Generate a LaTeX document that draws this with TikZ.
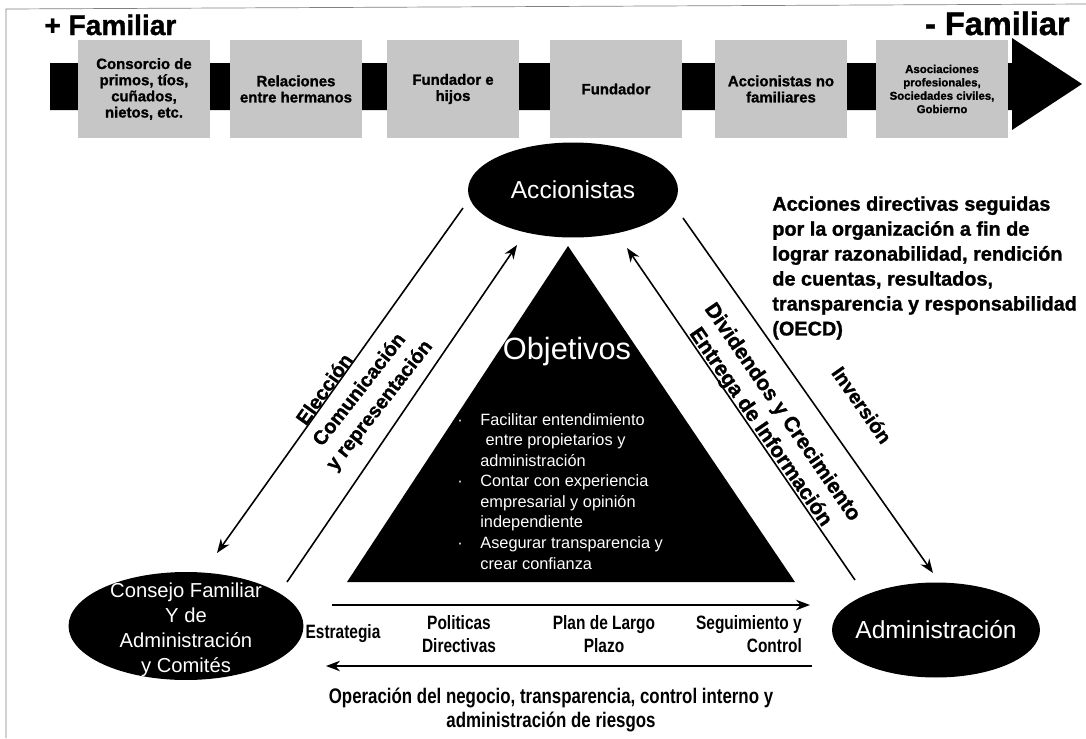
\documentclass[tikz,border=0pt]{standalone}
\usepackage{fontspec}
\setmainfont{Liberation Sans}
\newfontfamily\narrowfont{Liberation Sans}[FakeStretch=0.8]
\newfontfamily\heavyfont{Liberation Sans}[FakeBold=1.2]
\usetikzlibrary{shapes.geometric}
\usetikzlibrary{arrows.meta}

\begin{document}
\begin{tikzpicture}[x=0.02cm,y=-0.02cm]
    \tikzset{
      stage/.style={
        rectangle,
        fill=gray!45,
        minimum width=2.66cm,
        minimum height=1.96cm,
        inner sep=0mm,
        align=center,
        font=\heavyfont\bfseries\fontsize{8.5}{9.2}\selectfont
      },
      party/.style={
        ellipse,
        fill=black,
        inner sep=0mm
      },
      partytext/.style={
        text=white,
        align=center,
        font=\fontsize{14}{16}\selectfont
      },
      flow/.style={
        -{Stealth[length=8pt,width=6pt]},
        line width=0.9pt
      },
      tag/.style={
        align=center,
        font=\heavyfont\bfseries\fontsize{11.3}{14.5}\selectfont
      },
      steplabel/.style={
        align=center,
        font=\narrowfont\bfseries\fontsize{11}{13}\selectfont
      }
    }

    \useasboundingbox (0,0) rectangle (1086,738);

    %Scan frame
    \draw[gray, line width=0.4pt] (6,738) -- (6,9) -- (1086,4);

    %Familiar scale
    \node[font=\heavyfont\bfseries\fontsize{16}{18}\selectfont, anchor=base west, inner sep=0mm] at (44,35) (more) {+ Familiar};
    \node[font=\heavyfont\bfseries\fontsize{18.5}{20}\selectfont, anchor=base east, inner sep=0mm] at (1070,35) (less) {- Familiar};

    %Band arrow
    \fill (50,63) -- (1012,63) -- (1012,38) -- (1082,84) -- (1012,130) -- (1012,110) -- (50,110) -- cycle;

    %Stage boxes
    \node[stage] at (144,89) (s1) {Consorcio de\\primos, tíos,\\cuñados,\\nietos, etc.};
    \node[stage] at (296,89) (s2) {Relaciones\\entre hermanos};
    \node[stage] at (453,89) (s3) {Fundador e\\hijos};
    \node[stage] at (616,89) (s4) {Fundador};
    \node[stage] at (781,89) (s5) {Accionistas no\\familiares};
    \node[stage, font=\heavyfont\bfseries\fontsize{6.5}{7.6}\selectfont] at (942,89) (s6) {Asociaciones\\profesionales,\\Sociedades civiles,\\Gobierno};

    %Shareholders node
    \node[party, minimum width=4.2cm, minimum height=1.9cm] at (573,190) (acc) {};
    \node[partytext] at (acc) (acctext) {Accionistas};

    %Family council node
    \node[party, minimum width=4.7cm, minimum height=2.16cm] at (186,626) (cons) {};
    \node[partytext, font=\fontsize{11.5}{14.2}\selectfont] at (186,630) (constext) {Consejo Familiar\\Y de\\Administración\\y Comités};

    %Management node
    \node[party, minimum width=4.16cm, minimum height=1.9cm] at (936,630) (adm) {};
    \node[partytext] at (adm) (admtext) {Administración};

    %Objectives triangle
    \fill (568,246) -- (795,582) -- (347,582) -- cycle;
    \node[text=white, font=\fontsize{17.5}{19}\selectfont] at (567,352) (obj) {Objetivos};
    \node[text=white, anchor=north west, align=left, inner sep=0mm,
          font=\fontsize{9.3}{11.7}\selectfont] at (480,413) (objlist)
      {\llap{·\hspace{10pt}}Facilitar entendimiento\\
       \hspace{3pt}entre propietarios y\\
       administración\\
       \llap{·\hspace{10pt}}Contar con experiencia\\
       empresarial y opinión\\
       independiente\\
       \llap{·\hspace{10pt}}Asegurar transparencia y\\
       crear confianza};

    %Arrow ends
    \coordinate (ea) at (463,208);
    \coordinate (eb) at (217,553);
    \coordinate (ca) at (287,582);
    \coordinate (cb) at (517,245);
    \coordinate (da) at (855,580);
    \coordinate (db) at (627,248);
    \coordinate (ia) at (683,218);
    \coordinate (ib) at (933,573);
    \coordinate (ha) at (332,605);
    \coordinate (hb) at (810,605);
    \coordinate (oa) at (812,666);
    \coordinate (ob) at (326,666);

    %Side arrows
    \draw[flow] (ea) -- (eb);
    \draw[flow] (ca) -- (cb);
    \draw[flow] (da) -- (db);
    \draw[flow] (ia) -- (ib);

    %Bottom arrows
    \draw[flow] (ha) -- (hb);
    \draw[flow] (oa) -- (ob);

    %Side labels
    \node[tag, rotate=54.5] at (324,389) (t1) {Elección};
    \node[tag, rotate=52] at (370,398) (t2) {Comunicación\\y representación};
    \node[tag, rotate=-55.5, font=\heavyfont\bfseries\fontsize{12}{15}\selectfont] at (771,420) (t3) {Dividendos y Crecimiento\\Entrega de Información};
    \node[tag, rotate=-55] at (862,405) (t4) {Inversión};

    %Bottom labels
    \node[steplabel] at (343,634) (l1) {Estrategia};
    \node[steplabel] at (459,634) (l2) {Politicas\\Directivas};
    \node[steplabel] at (604,634) (l3) {Plan de Largo\\Plazo};
    \node[steplabel, align=right, anchor=east] at (808,634) (l4) {Seguimiento y\\Control};
    \node[steplabel, font=\narrowfont\bfseries\fontsize{12}{13.6}\selectfont] at (551,710) (op) {Operación del negocio, transparencia, control interno y\\administración de riesgos};

    %OECD note
    \node[anchor=north west, align=left, inner sep=0mm,
          font=\heavyfont\bfseries\fontsize{11.3}{14.2}\selectfont] at (772,196) (oecd)
      {Acciones directivas seguidas\\
       por la organización a fin de\\
       lograr razonabilidad, rendición\\
       de cuentas, resultados,\\
       transparencia y responsabilidad\\
       (OECD)};
\end{tikzpicture}
\end{document}
